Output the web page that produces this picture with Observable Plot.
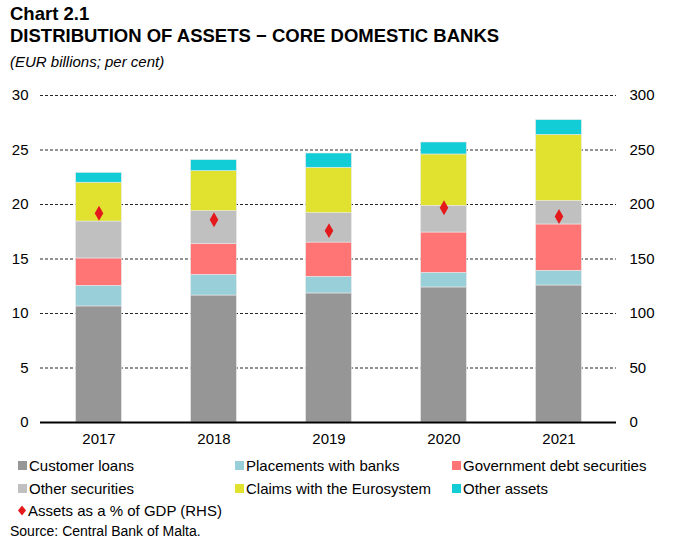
<!DOCTYPE html>
<html><head><meta charset="utf-8">
<script src="https://cdn.jsdelivr.net/npm/d3@7"></script>
<script src="https://cdn.jsdelivr.net/npm/@observablehq/plot@0.6"></script>
<style>
body{margin:0;background:#fff;font-family:"Liberation Sans",Arial,sans-serif;color:#000;}
#wrap{position:relative;width:675px;height:540px;}
.t{position:absolute;left:10px;font-weight:bold;font-size:18.5px;line-height:1;white-space:nowrap;}
.sub{position:absolute;left:10px;top:54px;font-style:italic;font-size:15px;line-height:1;}
#chart{position:absolute;left:0;top:80px;}
.lg{position:absolute;font-size:15px;line-height:1;display:flex;align-items:center;white-space:nowrap;}
.sw{width:9px;height:9px;margin-right:2px;}
.src{position:absolute;left:10px;top:524px;font-size:14px;line-height:1;}
</style></head><body>
<div id="wrap">
<div class="t" style="top:5px">Chart 2.1</div>
<div class="t" style="top:27px">DISTRIBUTION OF ASSETS − CORE DOMESTIC BANKS</div>
<div class="sub">(EUR billions; per cent)</div>
<div id="chart"></div>
<div id="legend"></div>
<div class="src">Source: Central Bank of Malta.</div>
</div>
<script>
const years = ["2017","2018","2019","2020","2021"];
const seriesNames = ["Customer loans","Placements with banks","Government debt securities","Other securities","Claims with the Eurosystem","Other assets"];
const customerLoans = [10.65, 11.65, 11.84, 12.39, 12.57];
const placements = [1.89, 1.90, 1.53, 1.34, 1.35];
const govDebt = [2.51, 2.84, 3.14, 3.70, 4.25];
const otherSecurities = [3.39, 3.00, 2.70, 2.45, 2.14];
const claimsEuro = [3.56, 3.67, 4.16, 4.71, 6.08];
const otherAssets = [0.90, 1.01, 1.31, 1.10, 1.35];
const assetsPctGDP = [192, 186, 176, 197, 189];
const leftTicks = [0,5,10,15,20,25,30];
const colors = ["#969696","#99CFD8","#FF7575","#C0C0C0","#E1E130","#12CDD6"];

const seriesVals = [customerLoans, placements, govDebt, otherSecurities, claimsEuro, otherAssets];
const rows = [];
seriesNames.forEach((s,i)=>years.forEach((y,j)=>rows.push({year:y, series:s, value:seriesVals[i][j]})));
const pct = years.map((y,j)=>({year:y, v:assetsPctGDP[j]/10}));

const plot = Plot.plot({
  width:675, height:370, marginTop:15, marginBottom:28, marginLeft:40, marginRight:59,
  style:{fontFamily:"Liberation Sans, Arial, sans-serif", fontSize:"15px", background:"transparent"},
  x:{domain:years, padding:0, label:null},
  y:{domain:[0,30], label:null},
  color:{domain:seriesNames, range:colors},
  marks:[
    Plot.gridY(leftTicks.filter(d=>d>0), {stroke:"#000", strokeOpacity:0.85, strokeDasharray:"3,2", strokeWidth:1}),
    Plot.barY(rows, {x:"year", y:"value", fill:"series", stroke:"#e8e8e8", strokeWidth:0.6, order:seriesNames, insetLeft:34.6, insetRight:34.6}),
    Plot.ruleY([0], {stroke:"#000", strokeWidth:2}),
    Plot.dot(pct, {x:"year", y:"v", symbol:"diamond", r:4.5, fill:"#E3191C", stroke:null}),
    Plot.axisY(leftTicks, {anchor:"left", tickSize:0, tickPadding:12, fontSize:15, fill:"#000"}),
    Plot.axisY(leftTicks, {anchor:"right", tickSize:0, tickPadding:13, textAnchor:"start", fontSize:15, fill:"#000", tickFormat:d=>d*10}),
    Plot.axisX({tickSize:0, tickPadding:11, fontSize:15, fill:"#000"})
  ]
});
document.getElementById("chart").appendChild(plot);

const lg = document.getElementById("legend");
const pos = [[18,458],[235,458],[452,458],[18,481],[235,481],[452,481]];
seriesNames.forEach((s,i)=>{
  const d=document.createElement("div");d.className="lg";
  d.style.left=pos[i][0]+"px";d.style.top=pos[i][1]+"px";
  d.innerHTML=`<span class="sw" style="background:${colors[i]}"></span><span>${s}</span>`;
  lg.appendChild(d);
});
const d=document.createElement("div");d.className="lg";d.style.left="17px";d.style.top="503px";
d.innerHTML=`<svg width="10" height="11" style="margin-right:1px"><path d="M5,0.5L9,5.5L5,10.5L1,5.5Z" fill="#E3191C"/></svg><span>Assets as a % of GDP (RHS)</span>`;
lg.appendChild(d);
</script>
</body></html>
